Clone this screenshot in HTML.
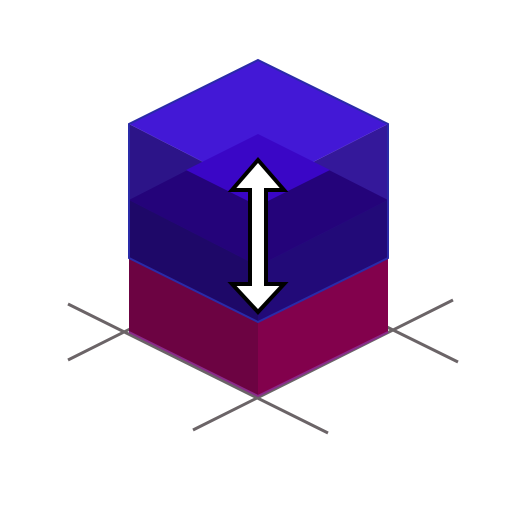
<!DOCTYPE html>
<html><head><meta charset="utf-8"><style>html,body{margin:0;background:#fff}svg{display:block}</style></head>
<body>
<svg width="512" height="512" viewBox="0 0 512 512">
  <g stroke="#6b6467" stroke-width="3" fill="none">
    <line x1="68" y1="304" x2="328" y2="433"/>
    <line x1="193" y1="430" x2="453" y2="300"/>
    <line x1="68" y1="360" x2="200" y2="294"/>
    <line x1="320" y1="294" x2="458" y2="362"/>
  </g>
  <g>
    <polygon points="129,258 258,322 258,396 129,332" fill="#6c0342"/>
    <polygon points="388,258 258,322 258,396 388,332" fill="#82014c"/>
    <polyline points="129,332 258,396 388,332" fill="none" stroke="#8a2a8a" stroke-width="2"/>
  </g>
  <g>
    <polygon points="129,124 258,190 258,322 129,258" fill="#2c1488"/>
    <polygon points="388,124 258,190 258,322 388,258" fill="#34189a"/>
    <polygon points="129,200 258,266 258,322 129,258" fill="#1e0868"/>
    <polygon points="388,200 258,266 258,322 388,258" fill="#220a78"/>
    <polygon points="129,200 258,134 388,200 258,266" fill="#24037a"/>
    <polygon points="258,60 388,124 258,190 129,124" fill="#4318d6"/>
    <polygon points="258,134 330,170 258,206 186,170" fill="#3a06c6"/>
    <polygon points="258,60 388,124 388,258 258,322 129,258 129,124" fill="none" stroke="#2a2aa8" stroke-width="2"/>
  </g>
  <g>
    <polygon points="258,160 284,190 266,190 266,284 284,284 258,312 232,284 250,284 250,190 232,190" fill="#fff" stroke="#000" stroke-width="4" stroke-linejoin="miter"/>
  </g>
</svg>
</body></html>
